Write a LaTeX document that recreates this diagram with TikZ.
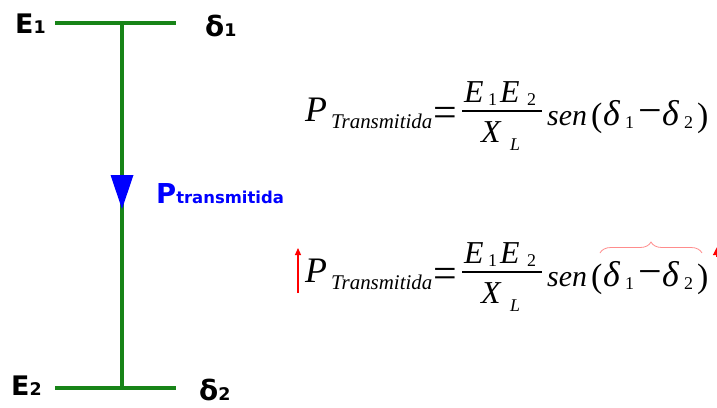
\documentclass[tikz,border=0pt]{standalone}
\usepackage{fontspec}
\setmainfont{Liberation Serif}
\newfontfamily\labfont{DejaVu Sans}
\usetikzlibrary{decorations.pathreplacing,arrows.meta}
\definecolor{linegreen}{RGB}{24,132,24}
\definecolor{pblue}{RGB}{0,0,255}
\newcommand{\fsz}[1]{\fontsize{#1}{#1}\selectfont}
\begin{document}
\begin{tikzpicture}[x=1bp,y=-1bp,
  lbl/.style={inner sep=0,anchor=base west,font=\labfont\bfseries},
  fm/.style={inner sep=0,anchor=base west,font=\itshape},
  fu/.style={inner sep=0,anchor=base west},
  gline/.style={draw=linegreen,line width=4bp},
  redarrow/.style={draw=red,line width=1.2bp,-{Triangle[length=7bp,width=6bp]}},
  bracestyle/.style={draw=red!45,line width=0.8bp,decorate,decoration={brace,amplitude=11bp}}]
\useasboundingbox (0,0) rectangle (717,407);
% left diagram
\coordinate (t1) at (55,23); \coordinate (tm) at (122,23); \coordinate (t2) at (176,23);
\coordinate (b1) at (55,388); \coordinate (bm) at (122,388); \coordinate (b2) at (176,388);
\draw[gline] (t1) -- (t2);
\draw[gline] (b1) -- (b2);
\draw[gline] (tm) -- (bm);
\fill[pblue] (110.5,175) -- (133.5,175) -- (122,209) -- cycle;
\node[lbl] (E1) at (15,33) {\fsz{27}E\fsz{17.5}1};
\node[lbl] (d1) at (205,36) {\fsz{28}δ\fsz{17.5}1};
\node[lbl] (E2) at (11,395) {\fsz{27}E\fsz{17.5}2};
\node[lbl] (d2) at (199,400) {\fsz{28}δ\fsz{17.5}2};
\node[lbl,text=pblue] (Pt) at (156,203) {\fsz{27.5}P\fsz{16.5}transmitida};
% formulas
\foreach \i/\dy in {1/0,2/161}{
\begin{scope}[shift={(0,\dy)}]
\node[fm] (P\i) at (305,121) {\fsz{36}P};
\node[fm] (T\i) at (331,128) {\fsz{21}Transmitida};
\node[fu] (eq\i) at (433,126.5) {\fsz{42}=};
\draw[line width=2bp] (462,110.5) coordinate (fa\i) -- (542,110.5) coordinate (fb\i);
\node[fm] (Ea\i) at (464,102) {\fsz{32}E};
\node[fu] (ia\i) at (488,105) {\fsz{18}1};
\node[fm] (Eb\i) at (500,102) {\fsz{32}E};
\node[fu] (ib\i) at (527,105) {\fsz{18}2};
\node[fm] (X\i) at (481,142) {\fsz{32}X};
\node[fm] (L\i) at (510,150) {\fsz{18}L};
\node[fm] (sen\i) at (547,125) {\fsz{30}sen};
\node[fu] (lp\i) at (591,126) {\fsz{34}(};
\node[fm] (da\i) at (603,125) {\fsz{36}δ};
\node[fu] (ja\i) at (625,128) {\fsz{18}1};
\node[fu] (mi\i) at (638,124.5) {\fsz{42}−};
\node[fm] (db\i) at (662,125) {\fsz{36}δ};
\node[fu] (jb\i) at (684,128) {\fsz{18}2};
\node[fu] (rp\i) at (697,126) {\fsz{34})};
\end{scope}
}
% annotations of second formula
\coordinate (ra1) at (298,293); \coordinate (ra2) at (298,248);
\draw[redarrow] (ra1) -- (ra2);
\coordinate (rb1) at (717,257); \coordinate (rb2) at (717,247);
\draw[redarrow,-{Triangle[length=8bp,width=8bp]}] (rb1) -- (rb2);
\coordinate (br1) at (600,253); \coordinate (br2) at (702,253);
\draw[bracestyle] (br1) -- (br2);
\end{tikzpicture}
\end{document}
